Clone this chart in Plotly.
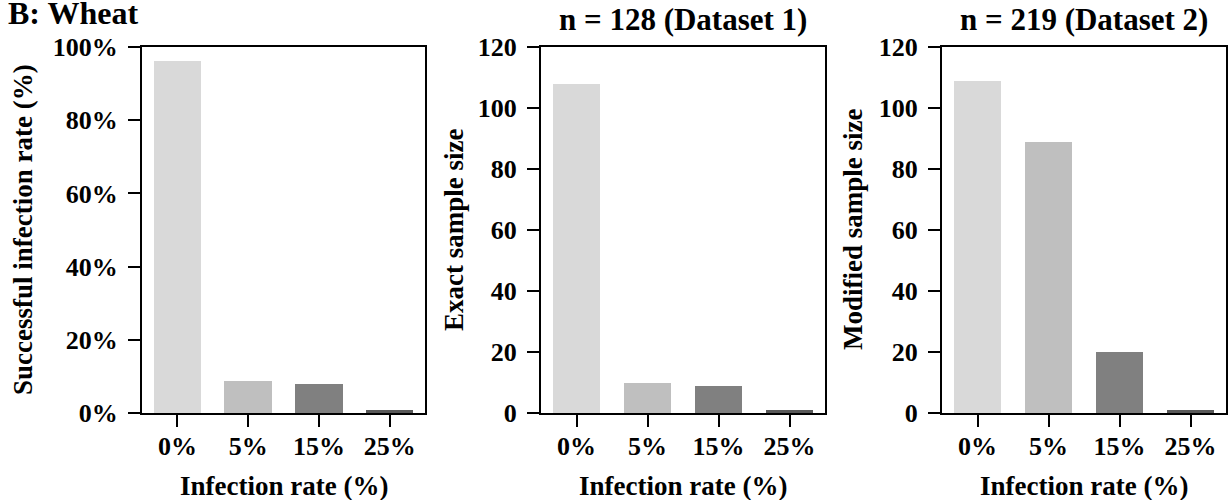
import plotly.graph_objects as go

categories = ["0%", "5%", "15%", "25%"]
success_rate = [96.3, 8.8, 8.0, 0.8]
exact_n = [108, 10, 9, 1]
modified_n = [109, 89, 20, 1]
bar_colors = ["#d9d9d9", "#bfbfbf", "#808080", "#595959"]
pct_ticks = [0, 20, 40, 60, 80, 100]
pct_labels = ["0%", "20%", "40%", "60%", "80%", "100%"]
n_ticks = [0, 20, 40, 60, 80, 100, 120]
n_labels = ["0", "20", "40", "60", "80", "100", "120"]

W, H = 1228, 500
FONT = "Liberation Serif"

def px(x):
    return x / W

def py(y):
    return 1 - y / H

panels = [
    dict(vals=success_rate, xd=[px(142), px(425)], rng=[0, 100], tv=pct_ticks, tt=pct_labels,
         ytitle="Successful infection rate (%)", ytx=23, title=None),
    dict(vals=exact_n, xd=[px(541), px(825)], rng=[0, 120], tv=n_ticks, tt=n_labels,
         ytitle="Exact sample size", ytx=454, title="n = 128 (Dataset 1)"),
    dict(vals=modified_n, xd=[px(942), px(1226)], rng=[0, 120], tv=n_ticks, tt=n_labels,
         ytitle="Modified sample size", ytx=853, title="n = 219 (Dataset 2)"),
]

fig = go.Figure()
ann = []
ydom = [py(413), py(47)]
for i, p in enumerate(panels):
    k = "" if i == 0 else str(i + 1)
    fig.add_trace(go.Bar(x=categories, y=p["vals"], marker=dict(color=bar_colors, line=dict(width=0)),
                         width=0.67, xaxis="x" + k, yaxis="y" + k, showlegend=False))
    axcommon = dict(showline=True, linecolor="black", linewidth=2, mirror=True,
                    ticks="outside", ticklen=12, tickwidth=2, tickcolor="black",
                    showgrid=False, zeroline=False, automargin=False,
                    tickfont=dict(family=FONT, size=26, color="black", weight="bold"))
    fig.update_layout(**{
        "xaxis" + k: dict(domain=p["xd"], anchor="y" + k, range=[-0.5, 3.5], type="category",
                          ticklabelstandoff=-3, **axcommon),
        "yaxis" + k: dict(domain=ydom, anchor="x" + k, range=p["rng"], tickvals=p["tv"],
                          ticktext=p["tt"], ticklabelstandoff=5, **axcommon),
    })
    cx = (p["xd"][0] + p["xd"][1]) / 2
    ann.append(dict(text="<b>Infection rate (%)</b>", x=cx, y=py(486), xref="paper", yref="paper",
                    showarrow=False, xanchor="center", yanchor="middle",
                    font=dict(family=FONT, size=27, color="black")))
    ann.append(dict(text="<b>" + p["ytitle"] + "</b>", x=px(p["ytx"]), y=py(230), xref="paper", yref="paper",
                    showarrow=False, xanchor="center", yanchor="middle", textangle=-90,
                    font=dict(family=FONT, size=27, color="black")))
    if p["title"]:
        ann.append(dict(text="<b>" + p["title"] + "</b>", x=cx, y=py(19), xref="paper", yref="paper",
                        showarrow=False, xanchor="center", yanchor="middle",
                        font=dict(family=FONT, size=31, color="black")))

ann.append(dict(text="<b>B: Wheat</b>", x=px(6), y=py(-7), xref="paper", yref="paper",
                showarrow=False, xanchor="left", yanchor="top",
                font=dict(family=FONT, size=32, color="black")))

fig.update_layout(width=W, height=H, margin=dict(l=0, r=0, t=0, b=0),
                  plot_bgcolor="white", paper_bgcolor="white", annotations=ann,
                  bargap=0)
fig.write_html("out.html", config={"displayModeBar": False},
               post_script="document.body.style.margin='0';document.body.style.overflow='hidden';")
